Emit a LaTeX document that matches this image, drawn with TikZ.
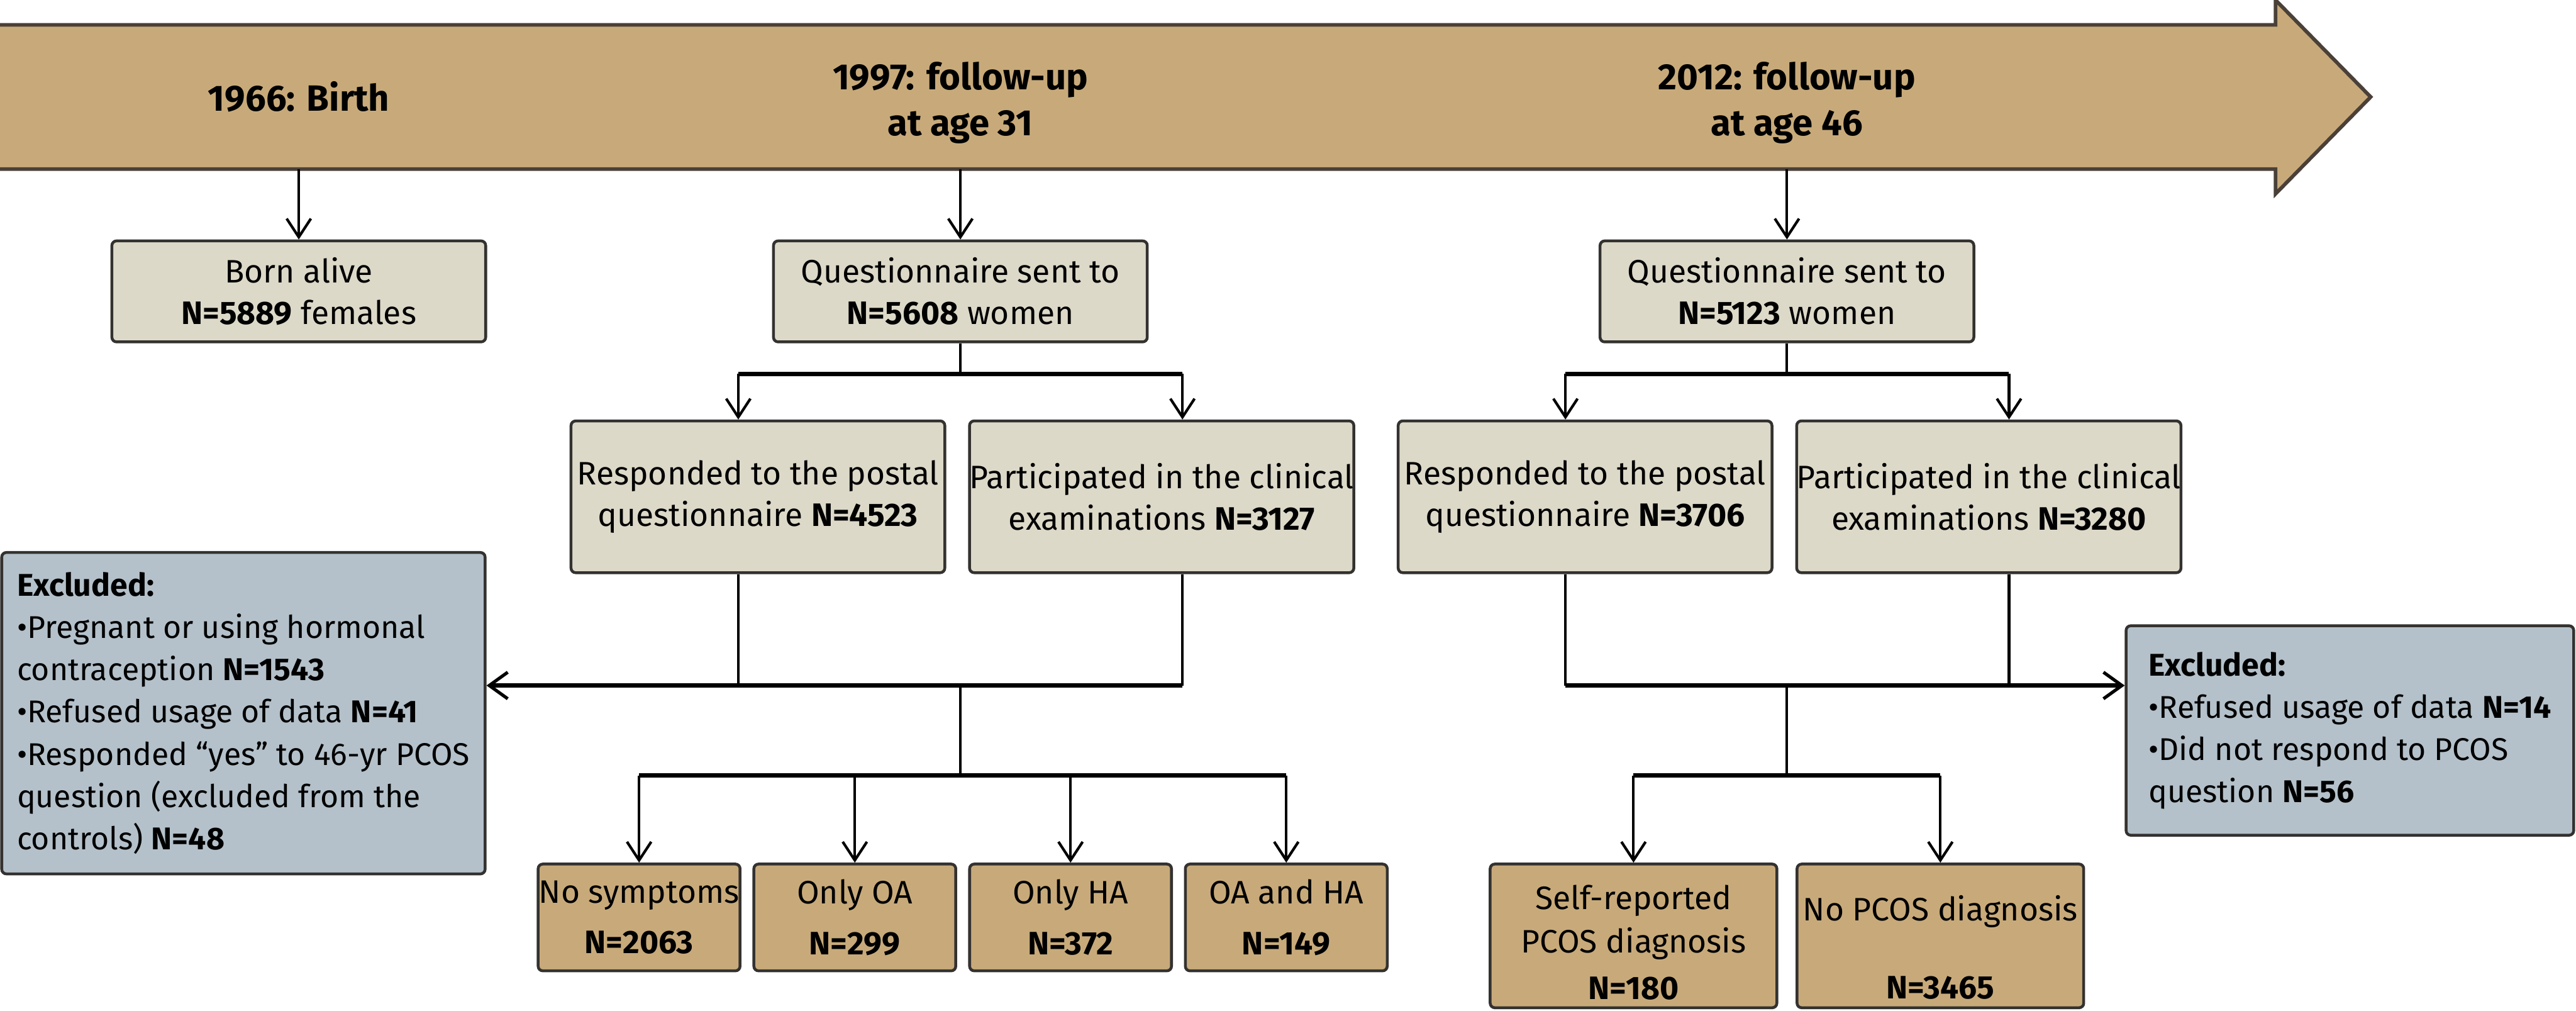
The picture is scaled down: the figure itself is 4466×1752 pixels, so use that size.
\documentclass[tikz,border=0pt]{standalone}
\usepackage{fontspec}
\setmainfont{Fira Sans}
\usepackage{tikz}
\usetikzlibrary{arrows.meta}

\definecolor{tanfill}{RGB}{200,170,122}
\definecolor{greyfill}{RGB}{221,217,201}
\definecolor{bluefill}{RGB}{180,193,202}
\definecolor{boxline}{RGB}{52,50,48}
\definecolor{bandline}{RGB}{74,64,56}

\begin{document}
\begin{tikzpicture}[x=0.1mm,y=-0.1mm]
					\tikzstyle{every node}=[font=\fontsize{16}{20.5}\selectfont,align=center,inner sep=0pt]
					\tikzstyle{head}=[font=\bfseries\fontsize{18}{22.7}\selectfont]
					\tikzstyle{box}=[draw=boxline,line width=1.4pt,rounded corners=0.8mm]
					\tikzstyle{sentbox}=[box,fill=greyfill,minimum width=64.8mm,minimum height=17.5mm]
					\tikzstyle{resbox}=[box,fill=greyfill,minimum width=64.8mm,minimum height=26.3mm]
					\tikzstyle{outbox}=[box,fill=tanfill,minimum width=35mm,minimum height=18.5mm]
					\tikzstyle{pcosbox}=[box,fill=tanfill,minimum width=49.7mm,minimum height=24.9mm]
					\tikzstyle{exclbox}=[box,fill=bluefill,align=left,font=\fontsize{15.5}{20.8}\selectfont]
					\tikzstyle{link}=[draw=black,line width=1.3pt]
					\tikzstyle{bar}=[draw=black,line width=2.3pt]
					\tikzstyle{arr}=[link,-{Straight Barb[length=3.2mm,width=4.2mm,line width=1.3pt]}]
					\tikzstyle{bararr}=[bar,-{Straight Barb[length=3.2mm,width=4.6mm,line width=1.6pt]}]

					\useasboundingbox (0,0) rectangle (4466,1752);

					\draw[fill=tanfill,draw=bandline,line width=1.8pt,line join=miter]
						(-20,43) -- (3945,43) -- (3945,0) -- (4110,168) -- (3945,336) -- (3945,293) -- (-20,293) -- cycle;

					\node[head] (h66) at (518,168) {1966: Birth};
					\node[head] (h97) at (1665,178) {1997: follow-up\\at age 31};
					\node[head] (h12) at (3098,178) {2012: follow-up\\at age 46};

					\coordinate (s66) at (518,293);
					\coordinate (s97) at (1665,293);
					\coordinate (s12) at (3098,293);

					\node[sentbox] (born) at (518,505) {Born alive\\\textbf{N=5889} females};
					\node[sentbox] (q97) at (1665,505) {Questionnaire sent to\\\textbf{N=5608} women};
					\node[sentbox] (q12) at (3098,505) {Questionnaire sent to\\\textbf{N=5123} women};

					\node[resbox] (r97) at (1314,861) {Responded to the postal\\questionnaire \textbf{N=4523}};
					\node[resbox] (p97) at (2014,861) {Participated in the clinical\\examinations \textbf{N=3127}};
					\node[resbox] (r12) at (2748,861) {Responded to the postal\\questionnaire \textbf{N=3706}};
					\node[resbox] (p12) at (3448,861) {Participated in the clinical\\examinations \textbf{N=3280}};

					\node[exclbox,minimum width=83.8mm,minimum height=55.7mm] (exl) at (422,1236) {\textbf{Excluded:}\\
						\textbullet Pregnant or using hormonal\\
						contraception \textbf{N=1543}\\
						\textbullet Refused usage of data \textbf{N=41}\\
						\textbullet Responded “yes” to 46-yr PCOS\\
						question (excluded from the\\
						controls) \textbf{N=48}};
					\node[exclbox,minimum width=77.6mm,minimum height=36.3mm] (exr) at (4074,1266) {\textbf{Excluded:}\\
						\textbullet Refused usage of data \textbf{N=14}\\
						\textbullet Did not respond to PCOS\\
						question \textbf{N=56}};

					\node[outbox] (nosym) at (1108,1590) {No symptoms\\[4.5pt]\textbf{N=2063}};
					\node[outbox] (onlyoa) at (1482,1590) {Only OA\\[4.5pt]\textbf{N=299}};
					\node[outbox] (onlyha) at (1856,1590) {Only HA\\[4.5pt]\textbf{N=372}};
					\node[outbox] (oaha) at (2230,1590) {OA and HA\\[4.5pt]\textbf{N=149}};

					\node[pcosbox] (self) at (2832,1622) {\rule{0pt}{18.4pt}Self-reported\\[1pt]PCOS diagnosis\\[2.2pt]\textbf{N=180}};
					\node[pcosbox] (nopcos) at (3364,1622) {\rule{0pt}{24pt}No PCOS diagnosis\\[18pt]\textbf{N=3465}};

					\draw[arr] (s66) -- (born);
					\draw[arr] (s97) -- (q97);
					\draw[arr] (s12) -- (q12);

					\coordinate (j97) at (1665,648);
					\coordinate (j97l) at (1280,648);
					\coordinate (j97r) at (2050,648);
					\draw[link] (q97) -- (j97);
					\draw[bar] (j97l) -- (j97r);
					\draw[arr] (j97l) -- (j97l |- r97.north);
					\draw[arr] (j97r) -- (j97r |- p97.north);

					\coordinate (j12) at (3098,648);
					\coordinate (j12l) at (2714,648);
					\coordinate (j12r) at (3483,648);
					\draw[link] (q12) -- (j12);
					\draw[bar] (j12l) -- (j12r);
					\draw[arr] (j12l) -- (j12l |- r12.north);
					\draw[arr] (j12r) -- (j12r |- p12.north);

					\coordinate (m97l) at (1280,1188);
					\coordinate (m97r) at (2050,1188);
					\coordinate (c97) at (1665,1188);
					\coordinate (d97) at (1665,1344);
					\draw[link] (j97l |- r97.south) -- (m97l);
					\draw[link] (j97r |- p97.south) -- (m97r);
					\draw[bararr] (m97r) -- (exl.east |- m97r);
					\draw[link] (c97) -- (d97);
					\draw[bar] (nosym |- d97) -- (oaha |- d97);
					\foreach \b in {nosym,onlyoa,onlyha,oaha}
						\draw[arr] (\b |- d97) -- (\b);

					\coordinate (m12l) at (2714,1188);
					\coordinate (m12r) at (3483,1188);
					\coordinate (c12) at (3098,1188);
					\coordinate (d12) at (3098,1344);
					\draw[link] (j12l |- r12.south) -- (m12l);
					\draw[link] (j12r |- p12.south) -- (m12r);
					\draw[bararr] (m12l) -- (exr.west |- m12l);
					\draw[link] (c12) -- (d12);
					\draw[bar] (self |- d12) -- (nopcos |- d12);
					\foreach \b in {self,nopcos}
						\draw[arr] (\b |- d12) -- (\b);

					\end{tikzpicture}
\end{document}
